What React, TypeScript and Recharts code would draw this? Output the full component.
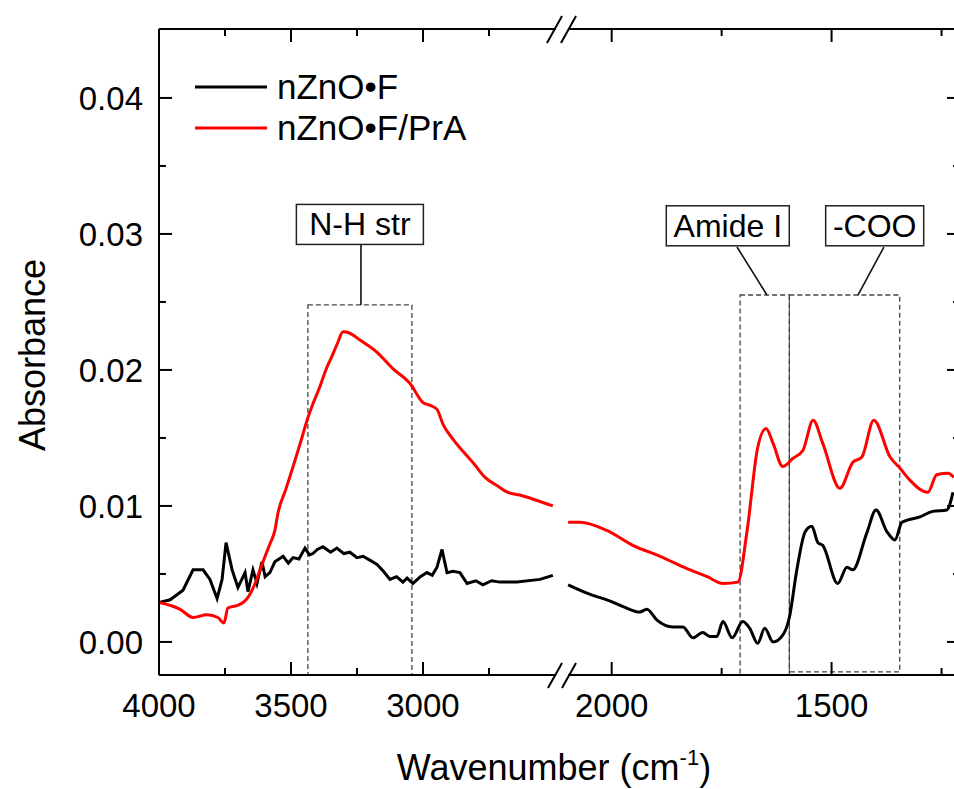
import React from "react";
import {
  LineChart,
  Line,
  XAxis,
  YAxis,
  Legend,
  ReferenceArea,
  ReferenceLine,
  ReferenceDot,
} from "recharts";

const FONT = '"Liberation Sans", Arial, Helvetica, sans-serif';

// ---- high wavenumber segment (4000 -> 2500 cm-1) ----
const blackHiWave = [
  4000, 3958, 3909, 3871, 3833, 3807, 3780, 3761, 3746, 3723, 3701, 3674, 3663, 3644, 3629, 3610,
  3598, 3580, 3561, 3530, 3510, 3492, 3470, 3447, 3430, 3417, 3400, 3379, 3350, 3326, 3300, 3277,
  3250, 3227, 3200, 3174, 3150, 3125, 3100, 3076, 3060, 3038, 3010, 2985, 2965, 2947, 2928, 2909,
  2886, 2860, 2833, 2800, 2773, 2740, 2708, 2644, 2557, 2508,
];
const blackHiAbs = [
  0.0029, 0.0031, 0.0038, 0.0053, 0.0053, 0.0046, 0.0032, 0.0046, 0.0073, 0.0053, 0.004, 0.0051,
  0.0037, 0.0053, 0.0043, 0.0059, 0.0048, 0.0051, 0.0059, 0.0063, 0.0058, 0.0062, 0.0061, 0.0069,
  0.0064, 0.0065, 0.0068, 0.007, 0.0066, 0.0069, 0.0065, 0.0066, 0.0062, 0.0063, 0.006, 0.0057,
  0.0052, 0.0046, 0.0048, 0.0044, 0.0047, 0.0043, 0.0048, 0.0051, 0.0049, 0.0055, 0.0068, 0.0051,
  0.0052, 0.0051, 0.0043, 0.0045, 0.0042, 0.0045, 0.0044, 0.0044, 0.0046, 0.0049,
];
const redHiWave = [
  4000, 3920, 3871, 3818, 3777, 3754, 3739, 3701, 3670, 3636, 3617, 3598, 3580, 3561, 3549, 3520,
  3492, 3465, 3439, 3415, 3390, 3368, 3345, 3323, 3303, 3277, 3239, 3174, 3114, 3049, 3000, 2973,
  2947, 2924, 2886, 2848, 2811, 2765, 2720, 2678, 2633, 2568, 2508,
];
const redHiAbs = [
  0.0029, 0.0024, 0.0018, 0.002, 0.0018, 0.0014, 0.0025, 0.0027, 0.0031, 0.0043, 0.0053, 0.0063,
  0.0072, 0.0082, 0.0095, 0.0112, 0.0129, 0.0146, 0.0163, 0.0176, 0.0188, 0.02, 0.021, 0.022,
  0.0228, 0.0227, 0.0222, 0.0213, 0.0201, 0.019, 0.0176, 0.0174, 0.0171, 0.016, 0.0149, 0.014,
  0.0132, 0.0121, 0.0115, 0.011, 0.0108, 0.0104, 0.01,
];

// ---- low wavenumber segment (2100 -> 1220 cm-1) ----
const blackLoWave = [
  2099, 2049, 2011, 1974, 1936, 1920, 1897, 1861, 1838, 1815, 1793, 1777, 1761, 1747, 1726, 1702,
  1686, 1668, 1652, 1633, 1611, 1596, 1579, 1560, 1545, 1531, 1520, 1486, 1465, 1452, 1420, 1399,
  1374, 1356, 1340, 1299, 1270, 1238, 1224,
];
const blackLoAbs = [
  0.0042, 0.0035, 0.0031, 0.0026, 0.0022, 0.0024, 0.0016, 0.0011, 0.0011, 0.0003, 0.0007, 0.0004,
  0.0004, 0.0015, 0.0003, 0.0015, 0.001, -0.0001, 0.001, 0.0, 0.0005, 0.0018, 0.0053, 0.0081,
  0.0085, 0.0073, 0.0071, 0.0043, 0.0055, 0.0053, 0.008, 0.0097, 0.0081, 0.0075, 0.0088, 0.0092,
  0.0096, 0.0097, 0.011,
];
const redLoWave = [
  2099, 2072, 2011, 1952, 1890, 1829, 1783, 1747, 1713, 1692, 1668, 1649, 1633, 1611, 1588, 1565,
  1542, 1520, 1481, 1452, 1431, 1404, 1367, 1345, 1322, 1281, 1261, 1235, 1222,
];
const redLoAbs = [
  0.0088, 0.0088, 0.0082, 0.0071, 0.0063, 0.0054, 0.0048, 0.0043, 0.0044, 0.0082, 0.0143, 0.0157,
  0.0146, 0.0129, 0.0135, 0.0141, 0.0163, 0.0146, 0.0113, 0.0132, 0.0136, 0.0163, 0.0136, 0.0128,
  0.0119, 0.011, 0.0123, 0.0124, 0.0121,
];

const SERIES_NAMES = ["nZnO\u2022F", "nZnO\u2022F/PrA"];
const SERIES_COLORS = ["#000000", "#ff0000"];

const HI_TICKS = [4000, 3750, 3500, 3250, 3000, 2750];
const LO_TICKS = [2000, 1750, 1500, 1250];
const Y_TICKS = [0, 0.005, 0.01, 0.015, 0.02, 0.025, 0.03, 0.035, 0.04];

const HI_DOMAIN: [number, number] = [2481, 4000];
const LO_DOMAIN: [number, number] = [1208, 2117.5];
const Y_DOMAIN: [number, number] = [-0.00243, 0.04507];

const toRows = (w: number[], a: number[]) => w.map((x, i) => ({ w: x, a: a[i] }));

// annotations in data coordinates
const NH_NOTE = { text: "N-H str", w: 3239, a: 0.0307, boxW: 127, from: [3235, 0.02934], to: [3235, 0.02478], area: [3436, 3042, -0.00243, 0.02478] };
const AMIDE_NOTE = { text: "Amide I", w: 1736, a: 0.0306, boxW: 123, from: [1715, 0.02904], to: [1647, 0.02551], area: [1708, 1596, -0.00243, 0.02551] };
const COO_NOTE = { text: "-COO", w: 1402, a: 0.0306, boxW: 98, from: [1381, 0.02904], to: [1440, 0.02551], area: [1596, 1345, -0.0022, 0.02551] };

const isMajorX = (v: number) => v % 500 === 0;
const isMajorY = (v: number) => Math.abs(v * 100 - Math.round(v * 100)) < 1e-6;

const AXIS_LINE = { stroke: "#000", strokeWidth: 2 };

function BottomTick(props: any) {
  const { x, y, payload } = props;
  const major = isMajorX(payload.value);
  return (
    <g>
      <line x1={x} x2={x} y1={y} y2={y - (major ? 13 : 7)} stroke="#000" strokeWidth={2} />
      {major && (
        <text x={x} y={y + 42} textAnchor="middle" fontSize={33} fontFamily={FONT} fill="#000">
          {payload.value}
        </text>
      )}
    </g>
  );
}

function TopTick(props: any) {
  const { x, y, payload } = props;
  const major = isMajorX(payload.value);
  return <line x1={x} x2={x} y1={y} y2={y + (major ? 13 : 7)} stroke="#000" strokeWidth={2} />;
}

function LeftTick(props: any) {
  const { x, y, payload } = props;
  const major = isMajorY(payload.value);
  return (
    <g>
      <line x1={x} x2={x + (major ? 13 : 7)} y1={y} y2={y} stroke="#000" strokeWidth={2} />
      {major && (
        <text x={x - 16} y={y + 12} textAnchor="end" fontSize={33} fontFamily={FONT} fill="#000">
          {payload.value.toFixed(2)}
        </text>
      )}
    </g>
  );
}

function RightTick(props: any) {
  const { x, y, payload } = props;
  const major = isMajorY(payload.value);
  return <line x1={x} x2={x - (major ? 13 : 7)} y1={y} y2={y} stroke="#000" strokeWidth={2} />;
}

function NoteBox(props: any) {
  const { cx, cy, text, boxW } = props;
  return (
    <g>
      <rect x={cx - boxW / 2} y={cy - 20} width={boxW} height={40} fill="#fff" stroke="#222" strokeWidth={1.5} />
      <text x={cx} y={cy + 11} textAnchor="middle" fontSize={32} fontFamily={FONT} fill="#000">
        {text}
      </text>
    </g>
  );
}

function renderNote(note: any) {
  return [
    <ReferenceArea
      key={note.text + "-area"}
      xAxisId="b"
      yAxisId="y"
      x1={note.area[0]}
      x2={note.area[1]}
      y1={note.area[2]}
      y2={note.area[3]}
      fill="none"
      fillOpacity={0}
      stroke="#444"
      strokeWidth={1.3}
      strokeDasharray="5 3"
      ifOverflow="visible"
    />,
    <ReferenceLine
      key={note.text + "-line"}
      xAxisId="b"
      yAxisId="y"
      segment={[
        { x: note.from[0], y: note.from[1] },
        { x: note.to[0], y: note.to[1] },
      ]}
      stroke="#111"
      strokeWidth={1.6}
      ifOverflow="visible"
    />,
    <ReferenceDot
      key={note.text + "-box"}
      xAxisId="b"
      yAxisId="y"
      x={note.w}
      y={note.a}
      r={1}
      ifOverflow="visible"
      shape={(p: any) => <NoteBox cx={p.cx} cy={p.cy} text={note.text} boxW={note.boxW} />}
    />,
  ];
}

function LegendBox(props: any) {
  const items = props.payload || [];
  return (
    <svg width={340} height={90}>
      {items.map((item: any, i: number) => (
        <g key={item.value}>
          <line x1={5} x2={77} y1={27 + i * 41} y2={27 + i * 41} stroke={item.color} strokeWidth={3} />
          <text x={87} y={39 + i * 41} fontSize={35} fontFamily={FONT} fill="#000">
            {item.value}
          </text>
        </g>
      ))}
    </svg>
  );
}

export default function App() {
  const hiBlack = toRows(blackHiWave, blackHiAbs);
  const hiRed = toRows(redHiWave, redHiAbs);
  const loBlack = toRows(blackLoWave, blackLoAbs);
  const loRed = toRows(redLoWave, redLoAbs);

  const xAxes = (domain: [number, number], ticks: number[]) => [
    <XAxis
      key="b"
      xAxisId="b"
      type="number"
      dataKey="w"
      domain={domain}
      reversed
      allowDataOverflow
      ticks={ticks}
      interval={0}
      height={114}
      tickSize={0}
      tickMargin={0}
      tickLine={false}
      axisLine={AXIS_LINE}
      tick={BottomTick}
    />,
    <XAxis
      key="t"
      xAxisId="t"
      orientation="top"
      type="number"
      dataKey="w"
      domain={domain}
      reversed
      allowDataOverflow
      ticks={ticks}
      interval={0}
      height={29}
      tickSize={0}
      tickMargin={0}
      tickLine={false}
      axisLine={AXIS_LINE}
      tick={TopTick}
    />,
  ];

  return (
    <div
      style={{
        position: "fixed",
        left: 0,
        top: 0,
        width: 954,
        height: 789,
        overflow: "hidden",
        background: "#fff",
      }}
    >
      <div style={{ position: "absolute", left: 0, top: 0 }}>
        <LineChart width={560} height={789} margin={{ top: 0, right: 0, bottom: 0, left: 0 }}>
          {xAxes(HI_DOMAIN, HI_TICKS)}
          <YAxis
            yAxisId="y"
            type="number"
            domain={Y_DOMAIN}
            allowDataOverflow
            ticks={Y_TICKS}
            interval={0}
            width={159}
            tickSize={0}
            tickMargin={0}
            tickLine={false}
            axisLine={AXIS_LINE}
            tick={LeftTick}
          />
          {renderNote(NH_NOTE)}
          <Line
            xAxisId="b"
            yAxisId="y"
            data={hiBlack}
            dataKey="a"
            name={SERIES_NAMES[0]}
            stroke={SERIES_COLORS[0]}
            strokeWidth={3}
            dot={false}
            isAnimationActive={false}
          />
          <Line
            type="monotone"
            xAxisId="b"
            yAxisId="y"
            data={hiRed}
            dataKey="a"
            name={SERIES_NAMES[1]}
            stroke={SERIES_COLORS[1]}
            strokeWidth={3}
            dot={false}
            isAnimationActive={false}
          />
          <Legend
            layout="vertical"
            align="center"
            verticalAlign="middle"
            content={LegendBox}
            wrapperStyle={{ left: 190, top: 60, width: 340, height: 90 }}
          />
        </LineChart>
      </div>

      <div style={{ position: "absolute", left: 560, top: 0 }}>
        <LineChart width={420} height={789} margin={{ top: 0, right: 0, bottom: 0, left: 0 }}>
          {xAxes(LO_DOMAIN, LO_TICKS)}
          <YAxis
            yAxisId="y"
            orientation="right"
            type="number"
            domain={Y_DOMAIN}
            allowDataOverflow
            ticks={Y_TICKS}
            interval={0}
            width={20}
            tickSize={0}
            tickMargin={0}
            tickLine={false}
            axisLine={AXIS_LINE}
            tick={RightTick}
          />
          {renderNote(AMIDE_NOTE)}
          {renderNote(COO_NOTE)}
          <Line
            type="monotone"
            xAxisId="b"
            yAxisId="y"
            data={loBlack}
            dataKey="a"
            name={SERIES_NAMES[0]}
            stroke={SERIES_COLORS[0]}
            strokeWidth={3}
            dot={false}
            isAnimationActive={false}
          />
          <Line
            type="monotone"
            xAxisId="b"
            yAxisId="y"
            data={loRed}
            dataKey="a"
            name={SERIES_NAMES[1]}
            stroke={SERIES_COLORS[1]}
            strokeWidth={3}
            dot={false}
            isAnimationActive={false}
          />
        </LineChart>
      </div>

      {/* axis titles and the // break marks */}
      <svg
        width={954}
        height={789}
        style={{ position: "absolute", left: 0, top: 0, pointerEvents: "none" }}
      >
        <text
          transform="translate(45, 355) rotate(-90)"
          textAnchor="middle"
          fontSize={36}
          fontFamily={FONT}
          fill="#000"
        >
          Absorbance
        </text>
        <text x={554} y={780} textAnchor="middle" fontSize={36} fontFamily={FONT} fill="#000">
          Wavenumber (cm
          <tspan fontSize={22} dy={-15}>
            -1
          </tspan>
          <tspan dy={15}>)</tspan>
        </text>
        <rect x={556} y={26} width={12} height={6} fill="#fff" />
        <line x1={547} y1={43} x2={562} y2={16} stroke="#000" strokeWidth={2} />
        <line x1={561} y1={43} x2={576} y2={16} stroke="#000" strokeWidth={2} />
        <rect x={556} y={672} width={12} height={6} fill="#fff" />
        <line x1={548} y1={688} x2={562} y2={663} stroke="#000" strokeWidth={2} />
        <line x1={562} y1={688} x2={576} y2={663} stroke="#000" strokeWidth={2} />
      </svg>
    </div>
  );
}
